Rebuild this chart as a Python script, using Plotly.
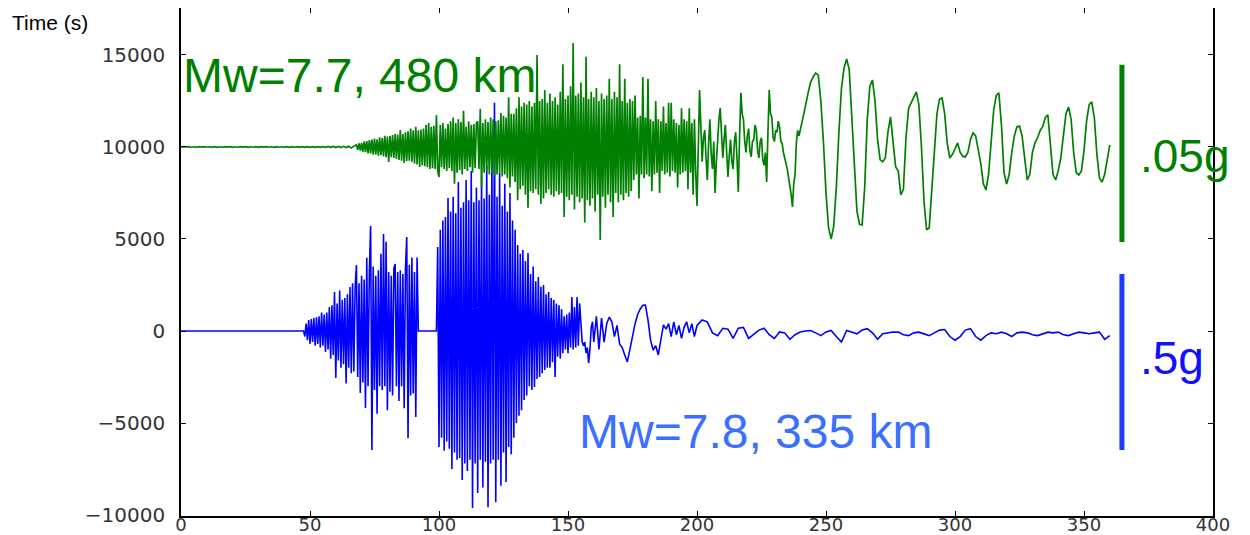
import numpy as np
import plotly.graph_objects as go

# ---------------- data ----------------
GREEN_OFFSET = 10000   # Mw=7.7 trace is plotted offset by +10000
BLUE_OFFSET = 0

# green trace, values relative to its offset
green_quiet_start, green_quiet_step = 0, 1
green_quiet = [0, 15, -10, 20, -15, 10, -20, 15, -10, 20, -15, 10, -20, 15, -20, 10, -15, 20, -10, 15,
               -20, 10, -15, 20, -10, 15, -20, 10, -15, 20, -20, 15, -10, 20, -15, 10, -20, 20, -15, 10,
               -20, 15, -20, 20, -15, 20, -20, 20, -20, 20, -20, 20, -20, 20, -25, 20, -25, 25, -25, 25,
               -30, 30, -30, 35, -35, 40, -50, 60]

green_onset_start, green_onset_step = 68, 0.5
green_onset = [120, -150, 200, -200, 220, -260, 300, -280, 320, -350,
               380, -350, 400, -420, 450, -400, 420, -480, 520, -450,
               480, -520, 600, -550, 560, -820, 600, -560, 650, -600,
               700, -650, 680, -700, 920, -750, 700, -870, 800, -760,
               850, -750, 1000, -800, 900, -900, 1090, -950, 900, -1090,
               950, -1000, 1000, -1050, 1200, -1100, 1300, -1200, 1100, -1150,
               1150, -1200, 1740, -1300]

green_strong_start, green_strong_step = 100, 0.5
green_strong = [-1630, 1200, -1100, 1300, -1200, 1000, -1300, 1250, -1150, 1400,
                -1300, 1600, -2000, 1300, -1400, 1500, -1250, 1350, -1500, 1960,
                -1200, 1100, -1300, 1400, -1100, 1200, -1400, 1250, -1150, 1300,
                1400, -1200, 2070, -2200, 1300, -1400, 1500, -1300, 1350, -1500,
                1600, -1400, 1500, -1600, 1400, -1500, 1450, -1400, 1850, -1600,
                1700, -1500, 1600, -1700, 2700, -2200, 1800, -1600, 1800, -1900,
                2100, -2900, 2700, -2300, 2200, -2100, 2400, -2600, 2300, -3300,
                2500, -2400, 2200, -2500, 2400, -2300, 5000, -2600, 2500, -3100,
                2600, -2800, 3100, -2500, 2400, -2300, 2900, -2600, 2500, -2700,
                2700, -2400, 2300, -2600, 3000, -2500, 4500, -3800, 2600, -2700,
                2800, -2900, 3300, -2600, 5650, -3400, 2800, -2700, 2900, -3000,
                3500, -2800, 2700, -4100, 4900, -2900, 2600, -3200, 3000, -2800,
                2700, -3500, 3200, -2600, 2500, -5050, 2900, -2700, 2600, -3300,
                2800, -2600, 3700, -3000, 2600, -3800, 3000, -2500, 2700, -3000,
                4500, -2600, 2500, -2900, 3700, -2500, 2400, -2700, 2600, -2400,
                2500, -1800, 2800, -1500, 1600, -2800, 1700, -1500, 3800, -1700,
                1600, -1500, 3700, -1600, 1500, -2400, 1400, -1500, 2500, -1400,
                1500, -2500, 1400, -1300, 2200, -1500, 1300, -1400, 2400, -1600,
                2400, -1300, 1500, -1400, 1300, -2200, 1200, -1500, 2100, -1400,
                1500, -1300, 1400, -2300, 2100, -1400, 1300, -2600, 1500, -1400,
                -3200]

green_late_start, green_late_step = 201, 0.5
green_late = [3100, 1500, -800, 500, 920, -600, -1800, 200, 1500, -400,
              -1200, 300, -2500, -800, 800, 1500, 2120, 600, -600, 400,
              1200, -300, -1630, -500, 400, -800, -1200, 300, 800, -600,
              -2450, 500, 2940, 1800, 1500, 300, -300, 600, 1000, -200,
              -540, 300, 400, 1200, 900, -200, -600, 300, 500, -700,
              -1000, -300, -1900, 800, 3100, 1800, 1600, 500, 300, 900,
              800, 1400, 1090, 300, 200, -300, -540, -900, -1200, -1600,
              -2000, -2600, -3260, -2000, -1500, 200, 900, 600, 900]

green_surface_start, green_surface_step = 241, 1
green_surface = [1500, 2200, 2900, 3500, 3800, 4020, 3900, 2500, 300, -2500,
                 -4400, -5000, -4300, -2200, 800, 3200, 4300, 4780, 4200, 1500,
                 -1500, -3500, -4200, -4240, -2200, 1500, 3300, 3640, 2500, 400,
                 -700, -810, -600, 800, 1630, 200, -1090, -1300, -2600, -2300,
                 500, 2100, 2400, 2700, 2990, 2300, 0, -3000, -4500, -4400,
                 -2200, 200, 1800, 2600, 2660, 1800, 200, -600, -400, -100,
                 220, -300, -500, -540, -300, 400, 760, 600, -100, -900,
                 -2000, -2340, -1500, 200, 2000, 2800, 2940, 1200, -1400, -2010,
                 -1500, -300, 600, 1100, 1140, 600, -600, -1790, -1500, -300,
                 220, 500, 900, 1100, 1600, 1740, 100, -1500, -1790, -1300,
                 -600, 600, 1800, 2170, 1500, -300, -1400, -1520, -1300, -200,
                 1400, 2300, 2450, 1600, -400, -1700, -1900, -1500, -600, 110]

# blue trace
blue_quiet_t = [0, 47.5]
blue_quiet = [0, 0]

blue_burst1_start, blue_burst1_step = 48, 0.5
blue_burst1 = [-300, 400, -500, 600, -700, 650, -600, 700, -800, 750,
               -700, 800, -900, 1000, -800, 900, -1140, 1000, -1000, 1300,
               -1500, 1400, -1300, 2120, -2550, 1500, -1600, 2200, -2000, 1700,
               -1800, 1800, -2850, 2000, -2000, 2390, -2300, 2600, -2200, 2400,
               3590, -2500, 2600, -3370, 3000, -2800, 2800, -4180, 3980, -3000,
               3200, 5710, -6470, 3500, -3200, 3000, -4500, 3300, -3000, 4200,
               -3200, 5270, -3000, 4850, -4300, 3200, -3300, 3000, -3500, 3400,
               3640, -3000, 3200, -3800, 3300, -3000, 3100, -4200, 3400, 5110,
               -5820, 3600, -3500, 4000, -3400, 3200, -4670, 4000, 0, 0]

blue_burst2_start, blue_burst2_step = 99, 0.5
blue_burst2 = [0, 4570, -6300, 5500, -5800, 6000, -6500, 6200, -6000, 7230,
               -6400, 6500, -7500, 7300, -6600, 6400, -7000, 8100, -6900, 6700,
               -8100, 7000, -7200, 8210, -7600, 7100, -7000, 8700, -9620, 7000,
               -7200, 7800, -8800, 7100, -7000, 8400, -8500, 7200, -7100, 9000,
               -9570, 7400, -7200, 9290, -7000, 12400, -9300, 7300, -7000, 8600,
               -8400, 6800, -6600, 8000, -8200, 6500, -6300, 7500, -6700, 6000,
               -5800, 5500, -5000, 4670, -4600, 4200, -4300, 4400, -3750, 3800,
               -3500, 4240, -3000, 3100, -3200, 3500, -3040, 2700, -2600, 2930,
               -2500, 2400, -2300, 2500, -2120, 2000, -2000, 2120, -2000, 1800,
               -1700, 1690, -2500, 1500, -1400, 1400, -1500, 1200, -1200, 800,
               -1000, 900, -1200, 1000, -900, 1850, -1000, 1300, -900, 1850,
               -800, 1500, 600, -600, -800, -600, -1200, -900, -1740, -1000,
               200, 500]

blue_coda_start, blue_coda_step = 160, 1
blue_coda = [-600, 800, -1000, 700, -600, 400, 760, 500, -300, 300,
             -700, -900, -1300, -1680, -1000, -200, 400, 900, 1200, 1400,
             1410, 600, -500, -1030, -800, -1300, -500, 330, 100, 400,
             -300, 500, -200, 300, -400, 200, 500, -100, 400, -300]

blue_tail_start, blue_tail_step = 200, 2
blue_tail = [300, 600, 500, -100, -250, 150, 100, -400, 150, 200,
             -400, -200, 50, 150, -200, -400, -50, -100, -450, -200,
             -50, 0, 30, -100, -250, -50, 30, -300, -600, 30,
             -50, -150, 50, 130, -100, -450, -150, -100, -50, -60,
             -200, -250, -100, -60, -150, -250, -100, 50, 80, -300,
             -500, -300, 50, 130, -300, -500, -250, -100, -150, -60,
             -150, -300, -100, -60, -100, -200, -250, -150, -60, -100,
             -60, -200, -250, -150, -60, -100, -150, -100, -60, -450,
             -250]

x_ticks = [0, 50, 100, 150, 200, 250, 300, 350, 400]
y_ticks = [-10000, -5000, 0, 5000, 10000, 15000]

# ---------------- assemble ----------------
def seg(start, vals, step):
    return start + step * np.arange(len(vals)), np.asarray(vals, dtype=float)

g_parts = [seg(green_quiet_start, green_quiet, green_quiet_step),
           seg(green_onset_start, green_onset, green_onset_step),
           seg(green_strong_start, green_strong, green_strong_step),
           seg(green_late_start, green_late, green_late_step),
           seg(green_surface_start, green_surface, green_surface_step)]
gt = np.concatenate([p[0] for p in g_parts])
gy = np.concatenate([p[1] for p in g_parts]) + GREEN_OFFSET

b_parts = [(np.asarray(blue_quiet_t, float), np.asarray(blue_quiet, float)),
           seg(blue_burst1_start, blue_burst1, blue_burst1_step),
           seg(blue_burst2_start, blue_burst2, blue_burst2_step),
           seg(blue_coda_start, blue_coda, blue_coda_step),
           seg(blue_tail_start, blue_tail, blue_tail_step)]
bt = np.concatenate([p[0] for p in b_parts])
by = np.concatenate([p[1] for p in b_parts]) + BLUE_OFFSET

GREEN = "#008000"
BLUE = "#0000ff"

fig = go.Figure()
fig.add_trace(go.Scatter(x=bt, y=by, mode="lines", line=dict(color=BLUE, width=1.6),
                         showlegend=False, hoverinfo="skip"))
fig.add_trace(go.Scatter(x=gt, y=gy, mode="lines", line=dict(color=GREEN, width=1.7),
                         showlegend=False, hoverinfo="skip"))

# scale bars
fig.add_shape(type="line", xref="x", yref="y", x0=364.7, x1=364.7, y0=4840, y1=14460,
              line=dict(color=GREEN, width=5))
fig.add_shape(type="line", xref="x", yref="y", x0=364.7, x1=364.7, y0=-6470, y1=3100,
              line=dict(color="#1a3cff", width=5))

big = "Liberation Sans, Arial, sans-serif"
fig.add_annotation(x=0.0, y=13900, xref="x", yref="y", text="Mw=7.7, 480 km", showarrow=False,
                   xanchor="left", yanchor="middle", font=dict(family=big, size=48, color=GREEN))
fig.add_annotation(x=153.5, y=-5450, xref="x", yref="y", text="Mw=7.8, 335 km", showarrow=False,
                   xanchor="left", yanchor="middle", font=dict(family=big, size=48, color="#3a6fff"))
fig.add_annotation(x=371.0, y=9500, xref="x", yref="y", text=".05g", showarrow=False,
                   xanchor="left", yanchor="middle", font=dict(family=big, size=46, color=GREEN))
fig.add_annotation(x=371.0, y=-1480, xref="x", yref="y", text=".5g", showarrow=False,
                   xanchor="left", yanchor="middle", font=dict(family=big, size=46, color="#1010ff"))
fig.add_annotation(x=-0.166, y=0.972, xref="paper", yref="paper", text="Time (s)", showarrow=False,
                   xanchor="left", yanchor="middle", font=dict(family=big, size=21, color="black"))

axis_common = dict(showline=True, linecolor="black", linewidth=1.5, mirror="ticks",
                   ticks="inside", ticklen=5, tickwidth=1, tickcolor="black",
                   showgrid=False, zeroline=False, tickformat="d")

# the page body adds an 8 px margin, so the figure is 8 px smaller on each axis
fig.update_layout(
    width=1242, height=527,
    margin=dict(l=173, r=37, t=0, b=19),
    paper_bgcolor="white", plot_bgcolor="white",
    xaxis=dict(range=[0, 400], tickvals=x_ticks, automargin=False, ticklabelstandoff=-8,
               tickfont=dict(family="DejaVu Sans", size=18, color="#333333"), **axis_common),
    yaxis=dict(range=[-10050, 17550], tickvals=y_ticks, automargin=False, ticklabelstandoff=10,
               tickfont=dict(family="DejaVu Sans", size=20, color="#333333"), **axis_common),
)

fig.write_html("out.html")
